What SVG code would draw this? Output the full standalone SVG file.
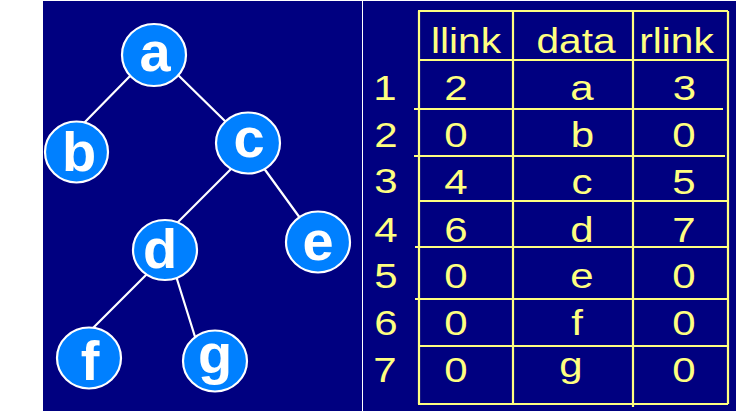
<svg xmlns="http://www.w3.org/2000/svg" width="755" height="411" viewBox="0 0 755 411">
<style>
.bg{fill:#000080}
.edge{stroke:#ffffff;stroke-width:2.2;stroke-linecap:round}
.node ellipse{fill:#0080ff;stroke:#ffffff;stroke-width:2.2}
.node text{fill:#ffffff;font-family:"Liberation Sans",Arial,sans-serif;font-weight:bold;font-size:56px;text-anchor:middle}
.grid line{stroke:#ffff80;stroke-width:2.2}
.t{fill:#ffff80;font-family:"Liberation Sans",Arial,sans-serif;font-size:35px;text-anchor:middle}
</style>
<rect width="755" height="411" fill="#ffffff"/>
<rect class="bg" x="43" y="1" width="319" height="410"/>
<rect class="bg" x="363" y="1" width="373" height="410"/>
<g id="connectors">
<line class="edge" x1="132" y1="74" x2="82" y2="125"/>
<line class="edge" x1="176" y1="73" x2="228" y2="124"/>
<line class="edge" x1="231" y1="169" x2="176" y2="224"/>
<line class="edge" x1="263" y1="167" x2="300" y2="218"/>
<line class="edge" x1="147" y1="274" x2="91" y2="330"/>
<line class="edge" x1="176" y1="276" x2="196" y2="340"/>
</g>
<g id="node-a" class="node"><ellipse cx="154" cy="55" rx="32" ry="31"/><text x="155" y="71">a</text></g>
<g id="node-b" class="node"><ellipse cx="76.5" cy="152" rx="31.5" ry="30.5"/><text x="79" y="171">b</text></g>
<g id="node-c" class="node"><ellipse cx="248" cy="143" rx="32" ry="30.5"/><text x="249" y="157">c</text></g>
<g id="node-d" class="node"><ellipse cx="165" cy="250" rx="32" ry="30"/><text x="160" y="268">d</text></g>
<g id="node-e" class="node"><ellipse cx="318" cy="242" rx="32" ry="30.5"/><text x="318" y="260">e</text></g>
<g id="node-f" class="node"><ellipse cx="89" cy="358" rx="32" ry="30.5"/><text x="90" y="380">f</text></g>
<g id="node-g" class="node"><ellipse cx="215" cy="361" rx="32" ry="30.5"/><text x="215" y="373">g</text></g>
<g id="table" class="grid">
<line x1="418" y1="11" x2="728" y2="11"/>
<line x1="418" y1="60" x2="728" y2="60"/>
<line x1="414" y1="109" x2="723" y2="109"/>
<line x1="414" y1="156" x2="725" y2="156"/>
<line x1="418" y1="201" x2="728" y2="201"/>
<line x1="415" y1="247" x2="728" y2="247"/>
<line x1="415" y1="299" x2="727" y2="299"/>
<line x1="418" y1="346" x2="728" y2="346"/>
<line x1="418" y1="404" x2="728" y2="404"/>
<line x1="419" y1="11" x2="419" y2="404"/>
<line x1="513" y1="11" x2="513" y2="404"/>
<line x1="633" y1="11" x2="633" y2="407"/>
<line x1="728" y1="11" x2="728" y2="404"/>
</g>
<g id="table-text" class="t">
<text transform="matrix(1.16,0,0,1,466,53)">llink</text>
<text transform="matrix(1.16,0,0,1,576,53)">data</text>
<text transform="matrix(1.16,0,0,1,676.5,53)">rlink</text>
<text transform="matrix(1.2,0,0,1,385,100)">1</text>
<text transform="matrix(1.2,0,0,1,386,147)">2</text>
<text transform="matrix(1.2,0,0,1,386,193)">3</text>
<text transform="matrix(1.2,0,0,1,386,242)">4</text>
<text transform="matrix(1.2,0,0,1,386,288)">5</text>
<text transform="matrix(1.2,0,0,1,386,335)">6</text>
<text transform="matrix(1.2,0,0,1,385,382)">7</text>
<text transform="matrix(1.2,0,0,1,456,100)">2</text>
<text transform="matrix(1.2,0,0,1,456,147)">0</text>
<text transform="matrix(1.2,0,0,1,456,194)">4</text>
<text transform="matrix(1.2,0,0,1,456,242)">6</text>
<text transform="matrix(1.2,0,0,1,456,288)">0</text>
<text transform="matrix(1.2,0,0,1,456,335)">0</text>
<text transform="matrix(1.2,0,0,1,456,382)">0</text>
<text transform="matrix(1.2,0,0,1,582,100)">a</text>
<text transform="matrix(1.2,0,0,1,582.5,147)">b</text>
<text transform="matrix(1.2,0,0,1,582,194)">c</text>
<text transform="matrix(1.2,0,0,1,582,242)">d</text>
<text transform="matrix(1.2,0,0,1,582,288)">e</text>
<text transform="matrix(1.2,0,0,1,577,335)">f</text>
<text transform="matrix(1.2,0,0,1,571,377)">g</text>
<text transform="matrix(1.2,0,0,1,684.5,100)">3</text>
<text transform="matrix(1.2,0,0,1,684,147)">0</text>
<text transform="matrix(1.2,0,0,1,684,194)">5</text>
<text transform="matrix(1.2,0,0,1,684,242)">7</text>
<text transform="matrix(1.2,0,0,1,684,288)">0</text>
<text transform="matrix(1.2,0,0,1,684,335)">0</text>
<text transform="matrix(1.2,0,0,1,684,382)">0</text>
</g>
</svg>
